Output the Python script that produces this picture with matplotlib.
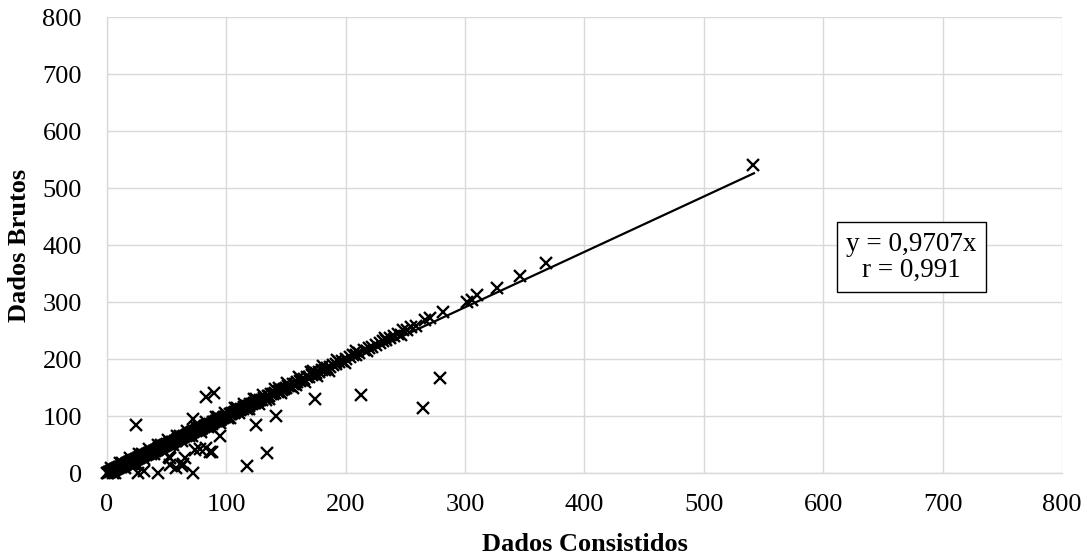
import matplotlib
matplotlib.use("Agg")
import matplotlib.pyplot as plt

plt.rcParams['font.family'] = ['Liberation Serif', 'DejaVu Serif']

# Pairs lying along the 1:1 line (consistent records)
consistent_x = [
    0.3, 1.0, 1.8, 2.6, 3.4, 4.2, 5.0, 5.9, 6.7, 7.5,
    8.4, 9.2, 10.1, 11.0, 11.8, 12.7, 13.5, 14.4, 15.2, 16.1,
    17.0, 17.9, 18.8, 19.6, 20.5, 21.4, 22.3, 23.1, 24.0, 25.0,
    25.9, 26.8, 27.7, 28.6, 29.5, 30.5, 31.4, 32.3, 33.3, 34.2,
    35.1, 36.1, 37.0, 38.0, 39.0, 39.9, 40.9, 41.8, 42.8, 43.8,
    44.7, 45.7, 46.7, 47.7, 48.6, 49.6, 50.6, 51.6, 52.6, 53.6,
    54.6, 55.6, 56.6, 57.6, 58.7, 59.7, 60.7, 61.7, 62.8, 63.8,
    64.8, 65.9, 66.9, 68.0, 69.0, 70.1, 71.1, 72.2, 73.3, 74.3,
    75.4, 76.5, 77.6, 78.7, 79.8, 80.9, 82.0, 83.1, 84.2, 85.3,
    86.4, 87.6, 88.7, 89.8, 91.0, 92.1, 93.3, 94.4, 95.6, 96.8,
    97.9, 99.1, 100.3, 101.5, 102.7, 103.9, 105.1, 106.3, 107.6, 108.8,
    110.0, 111.3, 112.5, 113.8, 115.1, 116.3, 117.6, 118.9, 120.2, 121.5,
    122.9, 124.2, 125.6, 126.9, 128.3, 129.7, 131.2, 132.8, 134.5, 136.0,
    137.8, 139.5, 141.0, 142.9, 144.5, 146.3, 148.0, 150.1, 152.0, 153.7,
    155.8, 157.4, 159.6, 161.5, 163.2, 165.4, 167.5, 169.3, 171.6, 173.8,
    175.5, 177.9, 180.0, 182.4, 184.6, 186.9, 189.0, 191.8, 194.5, 197.0,
    200.2, 203.5, 206.0, 208.3, 211.0, 215.5, 219.8, 222.4, 225.0, 228.6,
    231.5, 234.0, 237.2, 240.5, 244.0, 248.0, 251.0, 255.0, 258.5, 266.5,
    270.5, 281.5, 301.5, 305.5, 310.0, 326.5, 346.0, 367.5, 541.0,
]
consistent_y = [
    0.4, 1.1, 1.7, 2.8, 3.3, 4.4, 5.1, 5.8, 6.9, 7.4,
    8.6, 9.0, 10.3, 11.2, 11.6, 12.9, 13.4, 14.7, 15.0, 16.4,
    17.3, 17.7, 19.1, 19.4, 20.9, 21.2, 22.6, 23.0, 24.4, 24.8,
    26.3, 26.6, 28.1, 28.4, 29.9, 30.3, 31.8, 32.1, 33.7, 34.0,
    35.5, 35.9, 37.5, 37.8, 39.4, 39.7, 41.4, 41.6, 43.3, 43.6,
    45.2, 45.5, 47.2, 47.5, 49.1, 49.4, 51.1, 51.4, 53.1, 53.3,
    55.1, 55.4, 57.1, 57.3, 59.2, 59.5, 61.2, 61.4, 63.3, 63.5,
    65.3, 65.7, 67.4, 67.8, 69.5, 69.9, 71.6, 71.9, 73.8, 74.0,
    75.9, 76.3, 78.1, 78.4, 80.3, 80.6, 82.5, 82.8, 84.7, 85.0,
    86.9, 87.3, 89.2, 89.5, 91.5, 91.8, 93.8, 94.1, 96.1, 96.5,
    98.4, 98.8, 100.8, 101.2, 103.2, 103.5, 105.6, 105.9, 108.1, 108.4,
    110.5, 110.9, 113.0, 113.4, 115.6, 115.9, 118.1, 118.5, 120.7, 121.0,
    123.4, 123.9, 126.1, 126.5, 128.8, 129.3, 131.7, 132.4, 135.0, 135.6,
    138.3, 139.2, 141.5, 142.5, 145.0, 145.9, 148.6, 149.7, 152.6, 153.3,
    156.4, 157.0, 160.2, 161.1, 163.8, 165.0, 168.1, 168.9, 172.2, 173.4,
    176.1, 177.5, 180.6, 182.0, 185.2, 186.5, 189.6, 191.4, 195.1, 196.6,
    200.8, 204.0, 206.6, 207.9, 211.6, 216.0, 220.4, 222.0, 225.6, 228.2,
    232.1, 234.6, 237.8, 241.0, 244.6, 250.5, 251.6, 257.0, 259.1, 269.0,
    272.0, 283.5, 301.0, 304.5, 313.0, 325.5, 346.0, 368.0, 541.0,
]

# Pairs close to the 1:1 line with small differences
near_x = [
    3, 7, 11, 15, 19, 23, 27, 31, 35, 39,
    43, 47, 51, 55, 59, 63, 67, 71, 75, 79,
    83, 87, 91, 95, 99, 103, 107, 111, 115, 119,
    123, 127, 131, 136, 141, 146, 151, 156, 161, 166,
    171, 176, 181, 186, 193, 199, 209, 218, 233, 246,
    5, 13, 21, 29, 37, 45, 53, 61, 69, 77,
    85, 93, 101, 109, 117, 125, 133, 144, 158, 173,
]
near_y = [
    10, 1, 18, 9, 26, 17, 34, 25, 42, 33,
    50, 41, 58, 49, 66, 57, 74, 65, 82, 73,
    90, 81, 98, 89, 106, 97, 114, 105, 122, 113,
    130, 121, 138, 130, 148, 140, 158, 150, 168, 160,
    178, 170, 188, 180, 199, 194, 214, 215, 238, 243,
    1, 18, 17, 34, 33, 50, 49, 66, 65, 82,
    81, 98, 97, 114, 113, 130, 129, 150, 154, 179,
]

# Pairs that depart from the 1:1 line
outlier_x = [24, 83, 90, 72, 174, 125, 142, 95, 88, 134, 117, 78, 83, 72,
             64, 65, 53, 53, 43, 26, 31, 213, 265, 279, 58, 63, 52, 74, 86]
outlier_y = [84, 134, 140, 96, 131, 85, 101, 65, 37, 36, 12, 43, 45, 0,
             17, 26, 26, 14, 0, 1, 4, 138, 114, 167, 9, 12, 29, 41, 38]

slope = 0.9707
r_value = 0.991
fit_x = [0, 542]

x_ticks = [0, 100, 200, 300, 400, 500, 600, 700, 800]
y_ticks = [0, 100, 200, 300, 400, 500, 600, 700, 800]

fig = plt.figure(figsize=(10.87, 5.60), dpi=100)
ax = fig.add_axes([0.0984, 0.1548, 0.8786, 0.8148])

grid_color = '#d9d9d9'
ax.set_xlim(0, 800)
ax.set_ylim(0, 800)
ax.set_xticks(x_ticks)
ax.set_yticks(y_ticks)
ax.grid(True, color=grid_color, linewidth=1.0)
ax.set_axisbelow(True)
for side in ['top', 'right']:
    ax.spines[side].set_visible(False)
for side in ['left', 'bottom']:
    ax.spines[side].set_color(grid_color)
    ax.spines[side].set_linewidth(1.0)
ax.tick_params(length=0, labelsize=19, colors='black')
ax.tick_params(axis='x', pad=15)
ax.tick_params(axis='y', pad=18)

all_x = consistent_x + near_x + outlier_x
all_y = consistent_y + near_y + outlier_y
ax.plot(all_x, all_y, linestyle='none', marker='x', markersize=8.5,
        markeredgewidth=1.7, color='black', clip_on=False, zorder=3)

ax.plot(fit_x, [slope * v for v in fit_x], color='black', linewidth=1.6,
        zorder=4)

label = f"y = {slope:.4f}x\nr = {r_value:.3f}".replace('.', ',')
ax.text(674, 379, label, ha='center', va='center', fontsize=19.5,
        multialignment='center', linespacing=1.05,
        bbox=dict(boxstyle='square,pad=0.35', facecolor='white',
                  edgecolor='black', linewidth=1.0), zorder=5)

ax.set_xlabel('Dados Consistidos', fontsize=19, fontweight='bold',
              labelpad=12)
ax.set_ylabel('Dados Brutos', fontsize=19, fontweight='bold',
              labelpad=8)

fig.savefig('out.png', dpi=100)
